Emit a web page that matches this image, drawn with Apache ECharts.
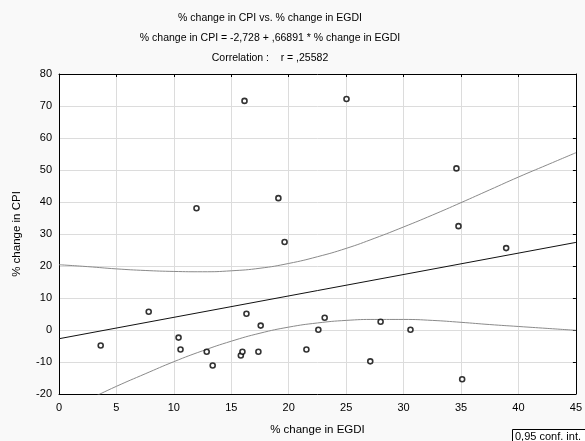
<!DOCTYPE html>
<html><head><meta charset="utf-8">
<script src="https://cdn.jsdelivr.net/npm/echarts@6/dist/echarts.min.js"></script>
<style>html,body{margin:0;padding:0;background:#f9f9f9;}#c{width:585px;height:441px;}</style>
</head><body><div id="c"></div>
<script>
// Scatter data: % change in EGDI (x) and % change in CPI (y)
var egdi = [16.15, 11.97, 19.1, 19.64, 25.03, 34.6, 34.78, 38.93, 3.63, 7.81, 10.41, 10.58, 12.86, 13.38, 15.83, 15.97, 16.32, 17.36, 17.56, 21.54, 22.58, 23.13, 27.1, 28.0, 30.6, 35.1];
var cpi  = [71.6, 38.05, 41.2, 27.5, 72.2, 50.5, 32.45, 25.6, -4.86, 5.7, -2.37, -6.1, -6.8, -11.1, -7.97, -6.8, 5.1, -6.8, 1.37, -6.1, 0.1, 3.85, -9.8, 2.6, 0.1, -15.4];
// Regression line endpoints (CPI = -2,728 + ,66891 * EGDI)
var regX = [0, 45];
var regY = [-2.728, 27.373];
// 95% confidence band
var bandX = [0, 2.5, 5, 7.5, 10, 12.5, 15, 17.5, 20, 22.5, 25, 27.5, 30, 32.5, 35, 37.5, 40, 42.5, 45];
var bandUp = [20.4, 19.8, 19.1, 18.6, 18.3, 18.2, 18.5, 19.3, 20.8, 22.9, 25.5, 28.7, 32.2, 35.9, 39.8, 43.8, 47.8, 51.6, 55.4];
var bandLo = [-25.8, -21.8, -17.6, -13.7, -9.9, -6.5, -3.5, -1.0, 0.9, 2.2, 3.0, 3.3, 3.3, 3.0, 2.4, 1.7, 1.1, 0.5, -0.1];
// Axis ticks
var xTicks = [0, 45, 5];
var yTicks = [-20, 80, 10];
var titles = ['% change in CPI vs. % change in EGDI', '% change in CPI = -2,728 + ,66891 * % change in EGDI', 'Correlation :    r = ,25582'];

function zip(a, b) { return a.map(function (v, i) { return [v, b[i]]; }); }
var font = 'Liberation Sans, Arial, sans-serif';
var chart = echarts.init(document.getElementById('c'));
chart.setOption({
  backgroundColor: '#f9f9f9',
  animation: false,
  title: titles.map(function (t, i) {
    return { text: t, left: 265, top: 8 + i * 20, textAlign: 'center',
      textStyle: { fontFamily: font, fontSize: 10.5, fontWeight: 'normal', color: '#000' } };
  }),
  graphic: [
    { type: 'rect', shape: { x: 512.5, y: 429.5, width: 90, height: 30 },
      style: { fill: '#fff', stroke: '#000', lineWidth: 1 } },
    { type: 'text', left: 515, top: 431,
      style: { text: '0,95 conf. int.', font: '11px ' + font, fill: '#000' } }
  ],
  grid: { left: 59, top: 74, right: 5, bottom: 45, backgroundColor: '#fff', show: true, borderWidth: 0 },
  xAxis: [{
    type: 'value', min: xTicks[0], max: xTicks[1], interval: xTicks[2],
    name: '% change in EGDI', nameLocation: 'middle', nameGap: 30,
    nameTextStyle: { fontFamily: font, fontSize: 11.5, color: '#000' },
    axisLine: { onZero: false, lineStyle: { color: '#000', width: 1 } },
    axisTick: { show: false },
    axisLabel: { fontFamily: font, fontSize: 11, color: '#000', margin: 8 },
    splitLine: { lineStyle: { color: '#dcdcdc', width: 1 } }
  }, {
    type: 'value', position: 'top', min: xTicks[0], max: xTicks[1], interval: xTicks[2],
    axisLine: { onZero: false, lineStyle: { color: '#000', width: 1 } },
    axisTick: { show: true, inside: true, length: 3, lineStyle: { color: '#000' } },
    axisLabel: { show: false }, splitLine: { show: false }
  }],
  yAxis: [{
    type: 'value', min: yTicks[0], max: yTicks[1], interval: yTicks[2],
    name: '% change in CPI', nameLocation: 'middle', nameGap: 36, nameRotate: 90,
    nameTextStyle: { fontFamily: font, fontSize: 11.5, color: '#000' },
    axisLine: { onZero: false, lineStyle: { color: '#000', width: 1 } },
    axisTick: { show: false },
    axisLabel: { fontFamily: font, fontSize: 11, color: '#000', margin: 7 },
    splitLine: { lineStyle: { color: '#dcdcdc', width: 1 } }
  }, {
    type: 'value', position: 'right', min: yTicks[0], max: yTicks[1], interval: yTicks[2],
    axisLine: { show: true, onZero: false, lineStyle: { color: '#000', width: 1 } },
    axisTick: { show: true, inside: true, length: 3, lineStyle: { color: '#000' } },
    axisLabel: { show: false }, splitLine: { show: false }
  }],
  series: [
    { type: 'line', data: zip(bandX, bandUp), smooth: true, symbol: 'none', clip: true,
      lineStyle: { color: '#8a8a8a', width: 1 }, z: 2 },
    { type: 'line', data: zip(bandX, bandLo), smooth: true, symbol: 'none', clip: true,
      lineStyle: { color: '#8a8a8a', width: 1 }, z: 2 },
    { type: 'line', data: zip(regX, regY), symbol: 'none', clip: true,
      lineStyle: { color: '#111', width: 1 }, z: 3 },
    { type: 'scatter', data: zip(egdi, cpi), symbol: 'circle', symbolSize: 5,
      itemStyle: { color: '#fff', borderColor: '#000', borderWidth: 1.6 }, z: 4 }
  ]
});
</script></body></html>
